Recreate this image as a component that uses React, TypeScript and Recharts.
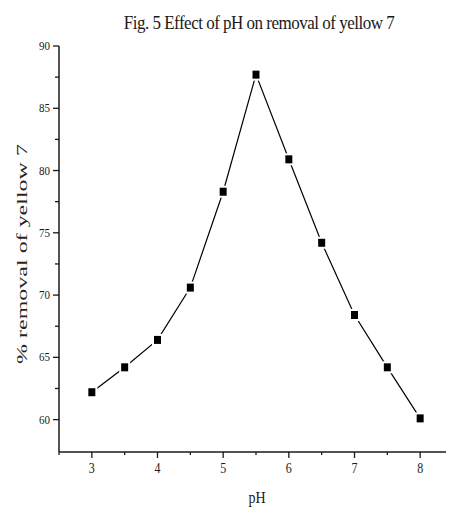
import { LineChart, Line, XAxis, YAxis } from 'recharts';

// pH values and % removal of yellow 7
const phValues = [3, 3.5, 4, 4.5, 5, 5.5, 6, 6.5, 7, 7.5, 8];
const removal = [62.2, 64.2, 66.4, 70.6, 78.3, 87.7, 80.9, 74.2, 68.4, 64.2, 60.1];

const xTicks = [2.5, 3, 3.5, 4, 4.5, 5, 5.5, 6, 6.5, 7, 7.5, 8, 8.5];
const yTicks = [60, 62.5, 65, 67.5, 70, 72.5, 75, 77.5, 80, 82.5, 85, 87.5, 90];

const chartData = phValues.map((ph, i) => ({ ph, removal: removal[i] }));

const FONT = '"Liberation Serif", "Times New Roman", serif';
const INK = '#1a1a1a';

const XTick = ({ x, y, payload }: any) => {
  const major = Number.isInteger(payload.value) && payload.value >= 3 && payload.value <= 8;
  return (
    <g>
      <line x1={x} y1={y} x2={x} y2={y + (major ? 6 : 3)} stroke={INK} strokeWidth={1.3} />
      {major && (
        <text
          fontFamily={FONT}
          fontSize={12}
          fill={INK}
          textAnchor="middle"
          transform={`translate(${x} ${y + 21}) scale(1 1.25)`}
        >
          {payload.value}
        </text>
      )}
    </g>
  );
};

const YTick = ({ x, y, payload }: any) => {
  const major = payload.value % 5 === 0;
  return (
    <g>
      <line x1={x} y1={y} x2={x - (major ? 6 : 4)} y2={y} stroke={INK} strokeWidth={1.3} />
      {major && (
        <text
          fontFamily={FONT}
          fontSize={11}
          fill={INK}
          textAnchor="end"
          transform={`translate(${x - 9} ${y + 4}) scale(1 1.15)`}
        >
          {payload.value}
        </text>
      )}
    </g>
  );
};

const SquareDot = ({ cx, cy }: any) => {
  if (cx == null || cy == null) return null;
  return (
    <g>
      <rect x={cx - 5.5} y={cy - 6} width={11} height={12} fill="#fff" />
      <rect x={cx - 3.5} y={cy - 4} width={7} height={8} fill="#000" />
    </g>
  );
};

// the source figure is stretched vertically, so the rotated label is stretched along its length
const YLabel = ({ viewBox }: any) => {
  const cy = viewBox.y + viewBox.height / 2 + 5;
  const cx = 22;
  return (
    <text
      transform={`translate(${cx} ${cy}) rotate(-90) scale(1.6 1)`}
      textAnchor="middle"
      dominantBaseline="central"
      fontFamily={FONT}
      fontSize={15}
      fill="#2a1f22"
    >
      % removal of yellow 7
    </text>
  );
};

const XLabel = ({ viewBox }: any) => {
  const cx = viewBox.x + viewBox.width / 2 + 1;
  return (
    <text
      transform={`translate(${cx} 503) scale(1 1.2)`}
      textAnchor="middle"
      fontFamily={FONT}
      fontSize={14}
      fill={INK}
    >
      pH
    </text>
  );
};

export default function App() {
  return (
    <div style={{ margin: '-8px 0 0 -8px', width: 454, height: 507, background: '#fff', position: 'relative' }}>
      <div
        style={{
          position: 'absolute',
          left: 113,
          top: 13,
          width: 292,
          textAlign: 'center',
          fontFamily: FONT,
          fontSize: 17,
          color: INK,
          whiteSpace: 'nowrap',
          letterSpacing: -0.5,
          transform: 'scaleY(1.15)',
        }}
      >
        Fig. 5 Effect of pH on removal of yellow 7
      </div>
      <LineChart width={454} height={507} data={chartData} margin={{ top: 46, right: 1, bottom: 0, left: 0 }}>
        <XAxis
          dataKey="ph"
          type="number"
          domain={[2.5, 8.5]}
          ticks={xTicks}
          interval={0}
          height={55}
          tickSize={0}
          tickMargin={0}
          tickLine={false}
          tick={<XTick />}
          axisLine={{ stroke: INK, strokeWidth: 1.5 }}
          label={<XLabel />}
        />
        <YAxis
          type="number"
          domain={[57.4, 90]}
          ticks={yTicks}
          interval={0}
          width={59}
          tickSize={0}
          tickMargin={0}
          tickLine={false}
          tick={<YTick />}
          axisLine={{ stroke: INK, strokeWidth: 1.5 }}
          allowDataOverflow
          label={<YLabel />}
        />
        <Line
          dataKey="removal"
          type="linear"
          stroke="#000"
          strokeWidth={1.2}
          dot={<SquareDot />}
          activeDot={false}
          isAnimationActive={false}
        />
      </LineChart>
    </div>
  );
}
